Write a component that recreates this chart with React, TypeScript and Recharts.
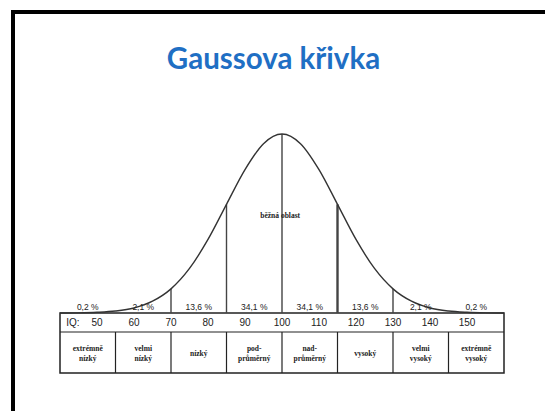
import React from "react";
import {
  ComposedChart,
  Line,
  Scatter,
  XAxis,
  YAxis,
  ReferenceArea,
  ReferenceLine,
} from "recharts";

// curve (peak = 100)
const curveIQ = [40, 45, 50, 55, 60, 65, 70, 75, 80, 85, 90, 95, 100, 105, 110, 115, 120, 125, 130, 135, 140, 145, 150, 155, 160];
const curveHeight = [0, 0.1, 0.4, 1.1, 2.8, 6.6, 13.5, 24.9, 41.1, 60.7, 80.1, 94.6, 100, 94.6, 80.1, 60.7, 41.1, 24.9, 13.5, 6.6, 2.8, 1.1, 0.4, 0.1, 0];

const iqTicks = [50, 60, 70, 80, 90, 100, 110, 120, 130, 140, 150];
const bandCenters = [47.5, 62.5, 77.5, 92.5, 107.5, 122.5, 137.5, 152.5];
const bandPercents = ["0,2 %", "2,1 %", "13,6 %", "34,1 %", "34,1 %", "13,6 %", "2,1 %", "0,2 %"];
const bandNames = [
  ["extrémně", "nízký"],
  ["velmi", "nízký"],
  ["nízký"],
  ["pod-", "průměrný"],
  ["nad-", "průměrný"],
  ["vysoký"],
  ["velmi", "vysoký"],
  ["extrémně", "vysoký"],
];
const dividers = [55, 70, 85, 100, 115, 130, 145];
const sdLines = [70, 85, 100, 115, 130];

const TABLE_BOTTOM = -33.5;
const ROW_SPLIT = -10.6;

const curve = curveIQ.map((iq, i) => ({ iq, h: curveHeight[i] }));
const heightAt = (iq: number) => curveHeight[curveIQ.indexOf(iq)];

const pctLabels = bandCenters.map((iq, i) => ({ iq, y: 3.2, kind: "pct", lines: [bandPercents[i]] }));
const nameLabels = bandCenters.map((iq, i) => ({ iq, y: -22.3, kind: "name", lines: bandNames[i] }));
const iqLabels = iqTicks.map((iq) => ({ iq, y: -5.3, kind: "iq", lines: [String(iq)] }));
const extraLabels = [
  { iq: 43.5, y: -5.3, kind: "iq", lines: ["IQ:"] },
  { iq: 99.5, y: 55, kind: "name", lines: ["běžná oblast"] },
];
const labels = [...pctLabels, ...nameLabels, ...iqLabels, ...extraLabels];

function LabelShape(props: any) {
  const { cx, cy, payload } = props;
  const lines: string[] = payload.lines;
  if (payload.kind === "name") {
    const lh = 9.5;
    const start = cy - ((lines.length - 1) * lh) / 2;
    return (
      <text
        x={cx}
        textAnchor="middle"
        dominantBaseline="central"
        fontFamily="'Liberation Serif', serif"
        fontWeight="bold"
        fontSize={7.5}
        fill="#222"
      >
        {lines.map((l, i) => (
          <tspan key={i} x={cx} y={start + i * lh}>
            {l}
          </tspan>
        ))}
      </text>
    );
  }
  return (
    <text
      x={cx}
      y={cy}
      textAnchor="middle"
      dominantBaseline="central"
      fontFamily="'Liberation Sans', Arial, sans-serif"
      fontSize={payload.kind === "iq" ? 10 : 8.5}
      fill="#222"
    >
      {lines[0]}
    </text>
  );
}

export default function App() {
  return (
    <div
      style={{
        position: "absolute",
        left: 0,
        top: 0,
        width: 545,
        height: 411,
        background: "#fff",
        overflow: "hidden",
      }}
    >
      <div
        style={{
          position: "absolute",
          left: 11,
          top: 10,
          width: 545,
          height: 411,
          borderLeft: "4px solid #000",
          borderTop: "4px solid #000",
        }}
      />
      <div
        style={{
          position: "absolute",
          left: 0,
          width: 547,
          top: 40,
          textAlign: "center",
          fontFamily: "Lato, 'Open Sans', sans-serif",
          fontWeight: 700,
          fontSize: 29.5,
          color: "#1F6FC4",
        }}
      >
        Gaussova křivka
      </div>
      <div style={{ position: "absolute", left: 0, top: 0 }}>
        <ComposedChart
          width={545}
          height={411}
          margin={{ top: 134, right: 41, bottom: 38, left: 60 }}
        >
          <XAxis type="number" dataKey="iq" domain={[40, 160]} hide />
          <YAxis type="number" domain={[TABLE_BOTTOM, 100]} hide />
          <ReferenceArea
            x1={40}
            x2={160}
            y1={TABLE_BOTTOM}
            y2={0}
            fill="#fff"
            fillOpacity={1}
            stroke="#222"
            strokeWidth={1.5}
          />
          <ReferenceLine y={ROW_SPLIT} stroke="#222" strokeWidth={1.2} />
          {dividers.map((d) => (
            <ReferenceLine
              key={"d" + d}
              segment={[
                { x: d, y: TABLE_BOTTOM },
                { x: d, y: ROW_SPLIT },
              ]}
              stroke="#222"
              strokeWidth={1.2}
            />
          ))}
          {sdLines.map((d) => (
            <ReferenceLine
              key={"s" + d}
              segment={[
                { x: d, y: 0 },
                { x: d, y: heightAt(d) },
              ]}
              stroke="#444"
              strokeWidth={d === 115 ? 2.4 : 1.4}
            />
          ))}
          <Line
            data={curve}
            dataKey="h"
            type="monotone"
            stroke="#333"
            strokeWidth={1.4}
            dot={false}
            isAnimationActive={false}
          />
          <Scatter
            data={labels}
            dataKey="y"
            shape={<LabelShape />}
            isAnimationActive={false}
          />
        </ComposedChart>
      </div>
    </div>
  );
}
